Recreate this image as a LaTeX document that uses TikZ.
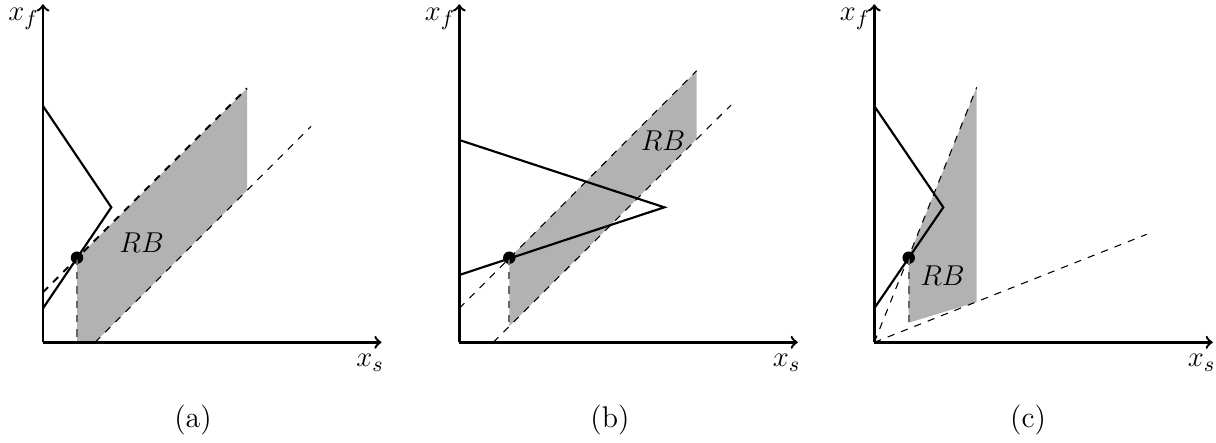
\documentclass[tikz,border=0pt]{standalone}
\usetikzlibrary{arrows}
\tikzset{
  axis/.style={line width=1pt,->},
  curve/.style={line width=0.9pt,line join=miter},
  guide/.style={dashed,line width=0.45pt},
  guidethick/.style={dashed,line width=0.8pt},
  drop/.style={dashed,line width=0.9pt,draw=black!60},
  region/.style={fill=black!30,draw=none},
  dot/.style={circle,fill=black,inner sep=0pt,minimum size=5.2pt},
  lbl/.style={inner sep=0pt,font=\fontsize{12.5pt}{15pt}\selectfont},
  axlbl/.style={lbl,anchor=base west},
}
\begin{document}
\begin{tikzpicture}[x=0.418pt,y=-0.418pt]
\useasboundingbox (0,0) rectangle (1216,442);
% ---------- panel (a)
\begin{scope}[shift={(43,342.3)},yscale=-1]
  \coordinate (aO) at (0,0);
  \coordinate (aY) at (0,338);
  \coordinate (aX) at (338.5,0);
  \coordinate (aS1) at (0,236.3);
  \coordinate (aS2) at (68.3,135);
  \coordinate (aS3) at (0,34);
  \coordinate (aU1) at (0,50);
  \coordinate (aU2) at (204,254);
  \coordinate (aL1) at (52,0);
  \coordinate (aL2) at (268,216);
  \coordinate (aB1) at (34,0);
  \coordinate (aB2) at (204,152);
  \fill[region] (aB1) -- (aL1) -- (aB2) -- (aU2) -- (34,84) -- cycle;
  \draw[guide] (aL1) -- (aL2);
  \draw[guidethick] (aU1) -- (aU2);
  \node[dot] (aD) at (34,84.6) {};
  \draw[drop] (aD.center) -- (aB1);
  \draw[curve] (aS1) -- (aS2) -- (aS3);
  \draw[axis] (aO) -- (aY);
  \draw[axis] (aO) -- (aX);
  \node[axlbl] (axf) at (-35,321.5) {$x_f$};
  \node[axlbl] (axs) at (313,-24.4) {$x_s$};
  \node[lbl] (aRB) at (98.7,100) {$RB$};
  \node[lbl] (acap) at (150,-78) {(a)};
\end{scope}
% ---------- panel (b)
\begin{scope}[shift={(459.3,342.3)},yscale=-1]
  \coordinate (bO) at (0,0);
  \coordinate (bY) at (0,338);
  \coordinate (bX) at (338.5,0);
  \coordinate (bS1) at (0,202.3);
  \coordinate (bS2) at (205,135);
  \coordinate (bS3) at (0,67.3);
  \coordinate (bU1) at (0,34);
  \coordinate (bU2) at (237.4,271.6);
  \coordinate (bL1) at (34,0);
  \coordinate (bL2) at (271.7,237.3);
  \coordinate (bB1) at (50,16);
  \coordinate (bB2) at (237.4,203.4);
  \fill[region] (50,84.2) -- (bU2) -- (bB2) -- (bB1) -- cycle;
  \draw[guide] (bL1) -- (bL2);
  \draw[guide] (bU1) -- (bU2);
  \node[dot] (bD) at (50,84.6) {};
  \draw[drop] (bD.center) -- (bB1);
  \draw[curve] (bS1) -- (bS2) -- (bS3);
  \draw[axis] (bO) -- (bY);
  \draw[axis] (bO) -- (bX);
  \node[axlbl] (bxf) at (-35,321.5) {$x_f$};
  \node[axlbl] (bxs) at (313,-24.4) {$x_s$};
  \node[lbl] (bRB) at (203.7,201.3) {$RB$};
  \node[lbl] (bcap) at (150.7,-78) {(b)};
\end{scope}
% ---------- panel (c)
\begin{scope}[shift={(874.3,342.3)},yscale=-1]
  \coordinate (cO) at (0,0);
  \coordinate (cY) at (0,338);
  \coordinate (cX) at (338.5,0);
  \coordinate (cS1) at (0,236.3);
  \coordinate (cS2) at (69,135);
  \coordinate (cS3) at (0,34);
  \coordinate (cU2) at (102.4,255);
  \coordinate (cL2) at (272.4,108);
  \coordinate (cB1) at (34.4,19.6);
  \coordinate (cB2) at (102.4,40.3);
  \fill[region] (34.4,85.7) -- (cU2) -- (cB2) -- (cB1) -- cycle;
  \draw[guide] (cO) -- (cL2);
  \draw[guide] (cO) -- (cU2);
  \node[dot] (cD) at (34.4,84.6) {};
  \draw[drop] (cD.center) -- (cB1);
  \draw[curve] (cS1) -- (cS2) -- (cS3);
  \draw[axis] (cO) -- (cY);
  \draw[axis] (cO) -- (cX);
  \node[axlbl] (cxf) at (-35,321.5) {$x_f$};
  \node[axlbl] (cxs) at (313,-24.4) {$x_s$};
  \node[lbl] (cRB) at (68.2,66.3) {$RB$};
  \node[lbl] (ccap) at (153.7,-78) {(c)};
\end{scope}
\end{tikzpicture}
\end{document}
